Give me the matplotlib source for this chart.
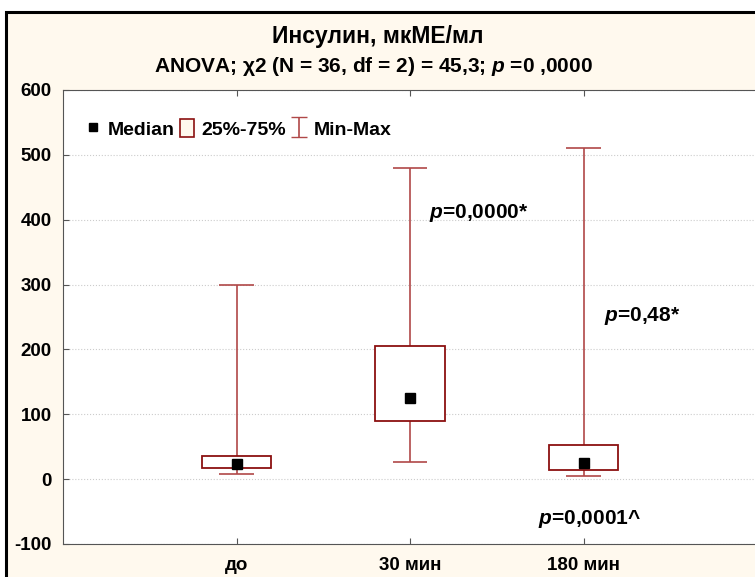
import matplotlib.pyplot as plt
import matplotlib.patches as mpatches
from matplotlib.lines import Line2D
import numpy as np

plt.rcParams['font.family'] = ['Liberation Sans', 'DejaVu Sans']
plt.rcParams['font.weight'] = 'bold'
plt.rcParams['axes.unicode_minus'] = False
plt.rcParams['mathtext.fontset'] = 'custom'
plt.rcParams['mathtext.it'] = 'Liberation Sans:italic:bold'
plt.rcParams['mathtext.rm'] = 'Liberation Sans:bold'

# data
groups = ['до', '30 мин', '180 мин']
medians = [23, 125, 25]
q1 = [17, 90, 14]
q3 = [35, 205, 52]
mins = [8, 27, 5]
maxs = [300, 480, 510]

pvals = ['0,0000*', '0,48*', '0,0001^']
p_pos = [(2.11, 411), (3.12, 252), (2.74, -62)]

box_edge = '#8b1010'
whisk = '#b04848'
cream = '#fff9ee'

fig = plt.figure(figsize=(7.55, 5.77), dpi=100, facecolor='white')
# cream panel with black frame
fig.patches.append(mpatches.Rectangle((6 / 755, -0.05), 1.1, (577 - 12) / 577 + 0.05,
                                      transform=fig.transFigure, facecolor=cream,
                                      edgecolor='black', linewidth=2.2, zorder=-5))

ax = fig.add_axes([63 / 755, 33 / 577, (757 - 63) / 755, (544 - 90) / 577])
ax.set_facecolor('white')

x = np.arange(1, len(groups) + 1)

ax.vlines(x, mins, maxs, color=whisk, lw=1.2, zorder=2)
ax.hlines(mins, x - 0.1, x + 0.1, color=whisk, lw=1.2, zorder=2)
ax.hlines(maxs, x - 0.1, x + 0.1, color=whisk, lw=1.2, zorder=2)
ax.bar(x, np.array(q3) - np.array(q1), bottom=q1, width=0.4, facecolor='white',
       edgecolor=box_edge, lw=1.3, zorder=3)
ax.plot(x, medians, 's', color='black', ms=7, zorder=4)

for (px, py), pv in zip(p_pos, pvals):
    ax.text(px, py, r'$p$=' + pv, fontsize=15, fontweight='bold', va='center', ha='left')

ax.set_xlim(0, 4)
ax.set_ylim(-100, 600)
ax.set_xticks(x)
ax.set_xticklabels(groups)
ax.set_yticks(np.arange(-100, 601, 100))
ax.tick_params(direction='in', top=True, length=4, labelsize=13.5, color='#555555', pad=8)
ax.tick_params(axis='x', pad=9)
ax.grid(axis='y', linestyle=':', color='#cccccc', lw=0.8)
ax.set_axisbelow(True)
for s in ax.spines.values():
    s.set_color('#555555')

# legend
h_med = Line2D([], [], marker='s', color='black', ls='none', ms=6)
h_box = mpatches.Patch(facecolor=cream, edgecolor=box_edge, lw=1.2)
eb = ax.errorbar([np.nan], [np.nan], yerr=[1], fmt='none', ecolor=whisk, capsize=6, elinewidth=1.2)
ax.legend([h_med, h_box, eb], ['Median', '25%-75%', 'Min-Max'], loc='center left',
          bbox_to_anchor=(0.033, 0.914), ncol=3, frameon=False, fontsize=14,
          handlelength=0.7, handleheight=1.0, handletextpad=0.4, columnspacing=0.3,
          borderpad=0, borderaxespad=0)

fig.text(0.5, 1 - 37 / 577, 'Инсулин, мкМЕ/мл', ha='center', va='center',
         fontsize=16.5, fontweight='bold')
fig.text(0.495, 1 - 66 / 577, r'ANOVA; χ2 (N = 36, df = 2) = 45,3; $p$ =0 ,0000', ha='center',
         va='center', fontsize=15, fontweight='bold')

fig.savefig('out.png', dpi=100, facecolor='white')
